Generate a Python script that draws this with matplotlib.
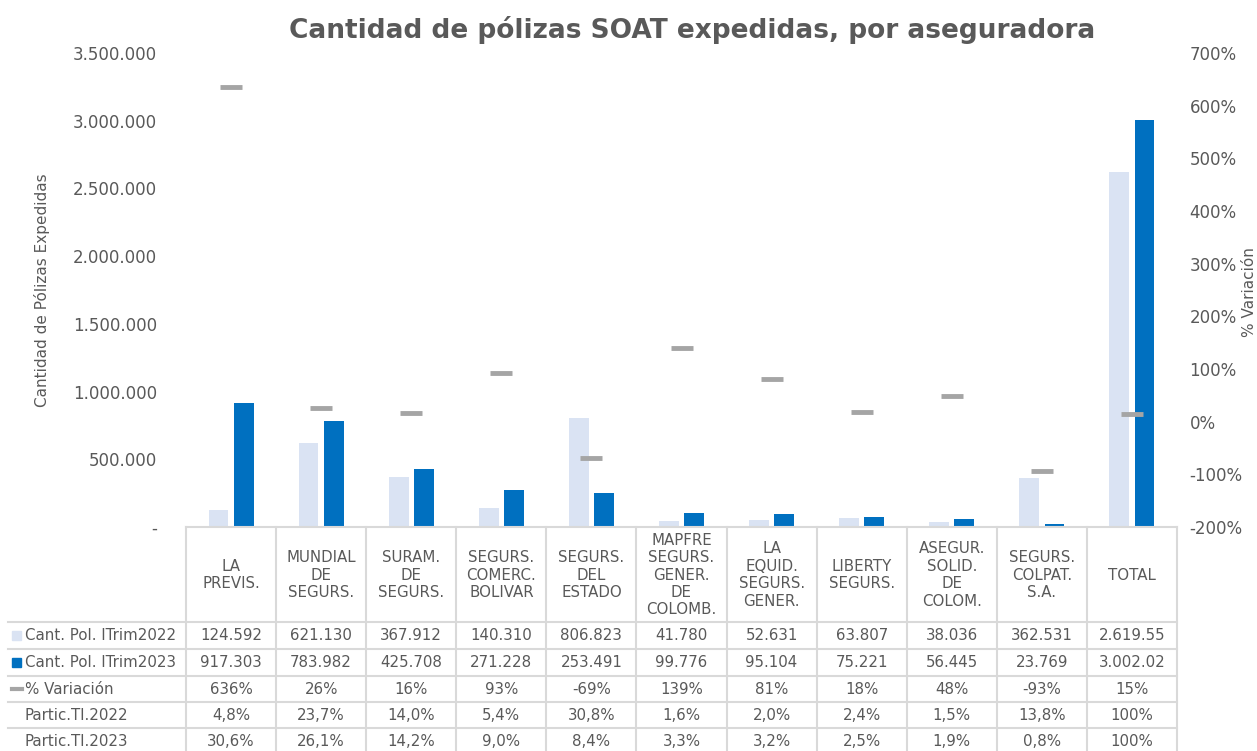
import matplotlib.pyplot as plt
import matplotlib.transforms as mtransforms
from matplotlib.ticker import FuncFormatter, MultipleLocator

# ---- data ----
companies = ["LA\nPREVIS.", "MUNDIAL\nDE\nSEGURS.", "SURAM.\nDE\nSEGURS.",
             "SEGURS.\nCOMERC.\nBOLIVAR", "SEGURS.\nDEL\nESTADO",
             "MAPFRE\nSEGURS.\nGENER.\nDE\nCOLOMB.", "LA\nEQUID.\nSEGURS.\nGENER.",
             "LIBERTY\nSEGURS.", "ASEGUR.\nSOLID.\nDE\nCOLOM.", "SEGURS.\nCOLPAT.\nS.A.",
             "TOTAL"]
polizas_2022 = [124592, 621130, 367912, 140310, 806823, 41780, 52631, 63807, 38036, 362531, 2619552]
polizas_2023 = [917303, 783982, 425708, 271228, 253491, 99776, 95104, 75221, 56445, 23769, 3002027]
variacion = [636, 26, 16, 93, -69, 139, 81, 18, 48, -93, 15]
partic_2022 = ["4,8%", "23,7%", "14,0%", "5,4%", "30,8%", "1,6%", "2,0%", "2,4%", "1,5%", "13,8%", "100%"]
partic_2023 = ["30,6%", "26,1%", "14,2%", "9,0%", "8,4%", "3,3%", "3,2%", "2,5%", "1,9%", "0,8%", "100%"]

LIGHT = "#DAE3F3"
DARK = "#0070C0"
GREY = "#A5A5A5"
TXT = "#595959"
GRID = "#D9D9D9"

W, H = 1257, 751
fig = plt.figure(figsize=(W / 100, H / 100), dpi=100)
plt.rcParams['font.family'] = ['DejaVu Sans']

px_l, px_r, px_t, px_b = 186, 1177, 53, 527
ax = fig.add_axes([px_l / W, 1 - px_b / H, (px_r - px_l) / W, (px_b - px_t) / H])
ax2 = ax.twinx()

n = len(companies)
xs = list(range(n))
off, bw = 0.14, 0.22
ax.bar([x - off for x in xs], polizas_2022, width=bw, color=LIGHT, zorder=2)
ax.bar([x + off for x in xs], polizas_2023, width=bw, color=DARK, zorder=2)
ax2.plot(xs, variacion, linestyle="none", marker="_", markersize=16,
         markeredgewidth=3.5, color=GREY, zorder=3)

ax.set_xlim(-0.5, n - 0.5)
ax.set_ylim(0, 3500000)
ax2.set_ylim(-200, 700)
ax.yaxis.set_major_locator(MultipleLocator(500000))
ax2.yaxis.set_major_locator(MultipleLocator(100))


def miles(v, pos):
    if v == 0:
        return "-"
    return f"{int(v):,}".replace(",", ".")


ax.yaxis.set_major_formatter(FuncFormatter(miles))
ax2.yaxis.set_major_formatter(FuncFormatter(lambda v, p: f"{int(v)}%"))
ax.set_xticks([])
for a in (ax, ax2):
    for s in a.spines.values():
        s.set_visible(False)
    a.tick_params(axis="y", length=0, labelsize=12, labelcolor=TXT)
ax.tick_params(axis="y", pad=21)
ax2.tick_params(axis="y", pad=9)

# axis titles
fig.text(42 / W, 1 - 290 / H, "Cantidad de Pólizas Expedidas", rotation=90,
         ha="center", va="center", fontsize=11, color=TXT)
fig.text(1250 / W, 1 - 292 / H, "% Variación", rotation=90,
         ha="center", va="center", fontsize=11, color=TXT)

fig.text(692 / W, 1 - 30 / H, "Cantidad de pólizas SOAT expedidas, por aseguradora",
         ha="center", va="center", fontsize=19, fontweight="bold", color=TXT)

# ---- data table ----
tr = mtransforms.blended_transform_factory(ax.transData, fig.transFigure)
fy = lambda p: 1 - p / H
row_lines = [527, 622, 649, 676, 702, 728, 760]
for i in range(n + 1):
    ax.plot([i - 0.5, i - 0.5], [fy(527), fy(760)], transform=tr, color=GRID,
            lw=1.5, clip_on=False)
ax.plot([-0.5, n - 0.5], [fy(527), fy(527)], transform=tr, color=GRID, lw=1.5, clip_on=False)
for yl in row_lines[1:-1]:
    fig.add_artist(plt.Line2D([8 / W, px_r / W], [fy(yl), fy(yl)], color=GRID, lw=1.5))

TS = 10.8
for i, c in enumerate(companies):
    ax.text(i, fy(575), c, transform=tr, ha="center", va="center", fontsize=TS,
            color=TXT, linespacing=1.2, clip_on=False)

fmt = lambda v: f"{v:,}".replace(",", ".")
rows = [
    [fmt(v) for v in polizas_2022[:-1]] + [fmt(polizas_2022[-1])[:8]],
    [fmt(v) for v in polizas_2023[:-1]] + [fmt(polizas_2023[-1])[:8]],
    [f"{v}%" for v in variacion],
    partic_2022,
    partic_2023,
]
labels = ["Cant. Pol. ITrim2022", "Cant. Pol. ITrim2023", "% Variación",
          "Partic.Tl.2022", "Partic.Tl.2023"]
for r, (vals, lab) in enumerate(zip(rows, labels)):
    yc = (row_lines[r + 1] + min(row_lines[r + 2], 755)) / 2
    for i, v in enumerate(vals):
        ax.text(i, fy(yc), v, transform=tr, ha="center", va="center", fontsize=TS,
                color=TXT, clip_on=False)
    fig.text(25 / W, fy(yc), lab, ha="left", va="center", fontsize=TS, color=TXT)

# legend keys in the row labels
fig.add_artist(plt.Rectangle((12 / W, fy(640)), 9 / W, 9 / H, color=LIGHT))
fig.add_artist(plt.Rectangle((12 / W, fy(667)), 9 / W, 9 / H, color=DARK))
fig.add_artist(plt.Line2D([12 / W, 22 / W], [fy(689), fy(689)], color=GREY, lw=3))

fig.savefig("out.png", dpi=100)
